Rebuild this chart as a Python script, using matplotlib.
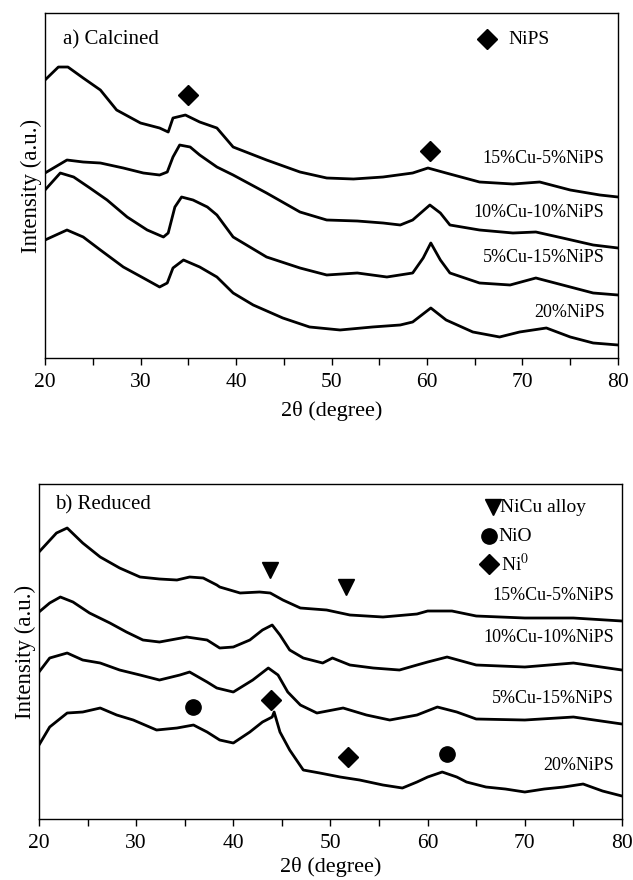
import matplotlib
matplotlib.use("Agg")
import matplotlib.pyplot as plt
from matplotlib.ticker import MultipleLocator

plt.rcParams['font.family'] = ['Liberation Serif', 'DejaVu Serif']
plt.rcParams['mathtext.fontset'] = 'stix'

# ---- a) Calcined (intensity in a.u., curves stacked) ----
calc_x_15cu = [20.0, 21.4, 22.4, 24.0, 25.8, 27.5, 30.0, 32.0, 32.9, 33.4, 34.7, 36.2, 38.0,
               39.7, 43.2, 46.7, 49.5, 52.3, 55.4, 58.5, 60.1, 62.0, 65.5, 69.0, 71.8, 75.0, 78.1, 80.0]
calc_y_15cu = [278, 291, 291, 280, 268, 248, 235, 230, 226, 240, 243, 236, 230,
               211, 198, 186, 180, 179, 181, 185, 190, 185, 176, 174, 176, 168, 163, 161]

calc_x_10cu = [20.0, 22.3, 24.0, 25.8, 28.2, 30.3, 32.0, 32.8, 33.4, 34.1, 35.2, 36.2, 38.0,
               39.7, 43.2, 46.7, 49.5, 52.7, 55.4, 57.2, 58.5, 60.3, 61.4, 62.4, 65.5, 69.0,
               71.4, 74.2, 77.4, 80.0]
calc_y_10cu = [185, 198, 196, 195, 190, 185, 183, 186, 201, 213, 211, 203, 191,
               183, 165, 146, 138, 137, 135, 133, 138, 153, 145, 133, 128, 125,
               126, 120, 113, 110]

calc_x_5cu = [20.0, 21.6, 23.0, 24.7, 26.5, 28.6, 30.7, 32.4, 32.9, 33.6, 34.3, 35.5, 37.0,
              38.0, 39.7, 43.2, 46.7, 49.5, 52.7, 55.8, 58.5, 59.6, 60.4, 61.4, 62.4, 65.5,
              68.7, 71.4, 74.2, 77.4, 80.0]
calc_y_5cu = [168, 185, 181, 170, 158, 141, 128, 121, 125, 151, 161, 158, 151,
              143, 121, 101, 90, 83, 85, 81, 85, 100, 115, 98, 85, 75,
              73, 80, 73, 65, 63]

calc_x_20ni = [20.0, 22.3, 24.0, 25.8, 28.2, 30.3, 32.0, 32.8, 33.4, 34.5, 36.2, 38.0, 39.7,
               41.8, 44.9, 47.7, 50.9, 54.3, 57.2, 58.5, 60.4, 62.0, 64.8, 67.6, 69.7, 72.5,
               75.0, 77.4, 80.0]
calc_y_20ni = [118, 128, 121, 108, 91, 80, 71, 75, 90, 98, 91, 81, 65,
               53, 40, 31, 28, 31, 33, 36, 50, 38, 26, 21, 26, 30,
               21, 15, 13]

# ---- b) Reduced ----
red_x_15cu = [20.0, 21.8, 22.9, 24.5, 26.3, 28.3, 30.4, 32.4, 34.2, 35.5, 36.9, 38.3, 38.6,
              40.7, 42.7, 43.8, 45.1, 46.9, 49.6, 52.0, 55.4, 58.9, 60.0, 62.5, 65.0, 70.0,
              75.0, 80.0]
red_y_15cu = [267, 286, 291, 276, 262, 251, 242, 240, 239, 242, 241, 234, 232,
              226, 227, 226, 219, 211, 209, 204, 202, 205, 208, 208, 203, 201,
              201, 198]

red_x_10cu = [20.0, 21.1, 22.2, 23.5, 25.2, 27.3, 29.0, 30.7, 32.4, 35.2, 37.3, 38.6, 40.0,
              41.7, 43.0, 44.0, 44.8, 45.8, 47.2, 49.2, 50.2, 52.0, 54.4, 57.1, 58.9, 60.0,
              62.0, 65.0, 70.0, 75.0, 80.0]
red_y_10cu = [207, 216, 222, 217, 206, 196, 187, 179, 177, 182, 179, 171, 172,
              179, 189, 194, 184, 169, 161, 156, 161, 154, 151, 149, 154, 157,
              162, 154, 152, 156, 149]

red_x_5cu = [20.0, 21.1, 22.9, 24.5, 26.3, 28.3, 30.4, 32.4, 34.5, 35.5, 37.3, 38.3, 40.0,
             42.0, 43.6, 44.6, 45.6, 46.9, 48.6, 51.3, 53.7, 56.1, 58.9, 61.0, 63.0, 65.0,
             70.0, 75.0, 80.0]
red_y_5cu = [147, 161, 166, 159, 156, 149, 144, 139, 144, 147, 137, 131, 127,
             139, 151, 144, 127, 114, 106, 111, 104, 99, 104, 112, 107, 100,
             99, 102, 95]

red_x_20ni = [20.0, 21.1, 22.9, 24.5, 26.3, 28.0, 29.7, 32.1, 34.2, 35.9, 37.3, 38.6, 40.0,
              41.7, 43.0, 44.0, 44.2, 44.8, 45.8, 47.2, 48.9, 51.0, 53.0, 55.4, 57.4, 58.9,
              60.0, 61.5, 63.0, 64.0, 66.0, 68.0, 70.0, 72.0, 74.0, 76.0, 78.0, 80.0]
red_y_20ni = [74, 92, 106, 107, 111, 104, 99, 89, 91, 94, 87, 79, 76,
              87, 97, 102, 107, 87, 69, 49, 46, 42, 39, 34, 31, 37,
              42, 47, 42, 37, 32, 30, 27, 30, 32, 35, 28, 23]

sample_labels = ["15%Cu-5%NiPS", "10%Cu-10%NiPS", "5%Cu-15%NiPS", "20%NiPS"]
calc_label_y = [200, 146, 100, 45]
red_label_y = [224, 182, 121, 54]

# peak markers (2theta, intensity)
calc_nips_x = [35.0, 60.3]
calc_nips_y = [263, 207]
red_alloy_x = [43.8, 51.6]
red_alloy_y = [249, 232]
red_nio_x = [35.9, 62.0]
red_nio_y = [112, 65]
red_ni0_x = [43.9, 51.8]
red_ni0_y = [119, 62]

fig = plt.figure(figsize=(6.33, 8.8), dpi=100)
ax1 = fig.add_axes([0.0711, 0.5932, 0.9052, 0.392])
ax2 = fig.add_axes([0.0616, 0.0693, 0.921, 0.3807])

def style_axis(ax, ymax, xpad):
    ax.set_xlim(20, 80)
    ax.set_ylim(0, ymax)
    ax.xaxis.set_major_locator(MultipleLocator(10))
    ax.xaxis.set_minor_locator(MultipleLocator(5))
    ax.tick_params(axis='x', which='both', direction='out', length=5, width=1.0,
                   labelsize=15.5, pad=6, top=False)
    ax.tick_params(axis='y', left=False, labelleft=False)
    for s in ax.spines.values():
        s.set_linewidth(1.0)
    ax.set_xlabel("2θ (degree)", fontsize=16, labelpad=xpad)
    ax.set_ylabel("Intensity (a.u.)", fontsize=16.5, labelpad=2)

lw = 2.0
for xs, ys in [(calc_x_15cu, calc_y_15cu), (calc_x_10cu, calc_y_10cu),
               (calc_x_5cu, calc_y_5cu), (calc_x_20ni, calc_y_20ni)]:
    ax1.plot(xs, ys, color='black', lw=lw)
style_axis(ax1, 345, 6)
ax1.text(21.9, 318, "a) Calcined", fontsize=15, va='center', ha='left')
for lab, yy in zip(sample_labels, calc_label_y):
    ax1.text(78.6, yy, lab, fontsize=13, ha='right', va='center')
ax1.plot(calc_nips_x, calc_nips_y, 'D', color='black', ms=10, ls='none')
ax1.plot([66.3], [319], 'D', color='black', ms=10)
ax1.text(68.5, 319, "NiPS", fontsize=14, va='center', ha='left')

for xs, ys in [(red_x_15cu, red_y_15cu), (red_x_10cu, red_y_10cu),
               (red_x_5cu, red_y_5cu), (red_x_20ni, red_y_20ni)]:
    ax2.plot(xs, ys, color='black', lw=lw)
style_axis(ax2, 335, 3)
ax2.text(21.6, 314, "b) Reduced", fontsize=15, va='center', ha='left')
for lab, yy in zip(sample_labels, red_label_y):
    ax2.text(79.2, yy, lab, fontsize=13, ha='right', va='center')
ax2.plot(red_alloy_x, red_alloy_y, 'v', color='black', ms=12, ls='none')
ax2.plot(red_nio_x, red_nio_y, 'o', color='black', ms=11, ls='none')
ax2.plot(red_ni0_x, red_ni0_y, 'D', color='black', ms=10, ls='none')
ax2.plot([66.7], [312], 'v', color='black', ms=12)
ax2.plot([66.3], [283], 'o', color='black', ms=11)
ax2.plot([66.3], [255], 'D', color='black', ms=10)
ax2.text(67.4, 312, "NiCu alloy", fontsize=14, va='center', ha='left')
ax2.text(67.3, 283, "NiO", fontsize=14, va='center', ha='left')
ax2.text(67.5, 255, "Ni$^{0}$", fontsize=14, va='center', ha='left')

fig.savefig("out.png", dpi=100)
